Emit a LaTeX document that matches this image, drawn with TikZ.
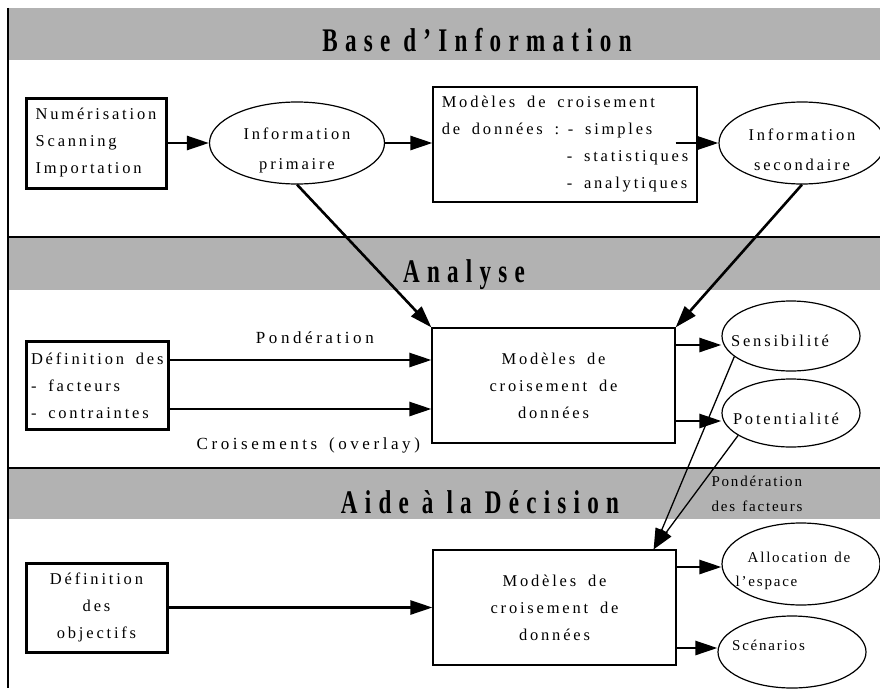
\documentclass[tikz,border=0pt]{standalone}
\usepackage{fontspec}
\setmainfont{Liberation Serif}[LetterSpace=17, WordSpace=1.7]
\newfontfamily\titlefont{Liberation Serif}[FakeStretch=0.7, LetterSpace=22]
\newfontfamily\labelfont{Liberation Serif}[LetterSpace=21, WordSpace=1.5]
\newfontfamily\notefont{Liberation Serif}[LetterSpace=12, WordSpace=1.3]
\usetikzlibrary{arrows.meta, shapes.geometric}
\definecolor{bandgray}{RGB}{178,178,178}

\begin{document}
\begin{tikzpicture}[x=1pt, y=-1pt, font=\fontsize{16.5}{27}\selectfont,
    box/.style={shape=rectangle, draw, fill=white, line width=1.2pt, inner sep=0pt},
    thickbox/.style={box, line width=3pt},
    oval/.style={shape=ellipse, draw, fill=white, line width=1.2pt, inner sep=0pt},
    title/.style={font=\titlefont\bfseries\fontsize{33}{33}\selectfont, anchor=base},
    arr/.style={-{Triangle[length=22pt, width=14pt]}, line width=2.6pt},
    thinarr/.style={-{Triangle[length=21pt, width=13pt]}, line width=1.3pt}]
    \useasboundingbox (0, 0) rectangle (880, 693);

    \fill [bandgray] (8, 8) rectangle (880, 60);
    \fill [bandgray] (8, 237) rectangle (880, 290);
    \fill [bandgray] (8, 468) rectangle (880, 519);
    \draw [line width=2.8pt] (8, 237) -- (880, 237);
    \draw [line width=2.8pt] (8, 468) -- (880, 468);
    \draw [line width=1.5pt] (8, 8) -- (8, 688);

    \node [title] (tbase) at (477, 52) {Base d’Information};
    \node [title] (tanalyse) at (464, 282) {Analyse};
    \node [title] (taide) at (480, 513) {Aide à la Décision};

    \node [thickbox, minimum width=140, minimum height=90, align=left] (scan) at (96, 143)
        {Numérisation\\Scanning\\Importation};
    \node [oval, minimum width=175, minimum height=82,
        label={[align=center, yshift=-7pt, font=\fontsize{16.5}{30}\selectfont]center:Information\\primaire}] (info1) at (297, 143) {};
    \node [box, minimum width=264, minimum height=115, align=left] (mod1) at (565, 144.5)
        {Modèles de croisement\\\makebox[126pt][l]{de données :}- simples\\\hspace*{125pt}- statistiques\\\hspace*{125pt}- analytiques};
    \node [oval, minimum width=166, minimum height=82,
        label={[align=center, yshift=-7pt, font=\fontsize{16.5}{30}\selectfont]center:Information\\secondaire}] (info2) at (802, 143) {};
    \coordinate (m1out) at ([xshift=-22pt]mod1.east);

    \draw [arr] (scan) -- (info1);
    \draw [arr] (info1) -- (mod1.west |- info1.east);
    \draw [arr] (m1out |- info2.west) -- (info2.west);

    \node [thickbox, minimum width=142, minimum height=88, align=left] (def1) at (97, 385.5)
        {\makebox[132pt][l]{Définition des\,:}\\- facteurs\\- contraintes};
    \node [box, minimum width=243, minimum height=115, align=center] (mod2) at (553.5, 385.5)
        {Modèles de\\croisement de\\données};
    \node [oval, minimum width=138, minimum height=70,
        label={[xshift=-11pt, yshift=-4.5pt]center:Sensibilité}] (sens) at (791, 336) {};
    \node [oval, minimum width=138, minimum height=68,
        label={[xshift=-5pt, yshift=-5.5pt]center:Potentialité}] (pot) at (791, 413) {};

    \draw [arr] (info1.south) -- (mod2.north west);
    \draw [arr] (info2.south) -- (mod2.north east);
    \draw [arr] ([yshift=25.5pt]def1.east) --
        node [pos=0.555, yshift=22pt, font=\labelfont\fontsize{17}{20}\selectfont] {Pondération}
        ([yshift=25.5pt]mod2.west);
    \draw [arr] ([yshift=-23.5pt]def1.east) --
        node [pos=0.53, yshift=-36pt, font=\labelfont\fontsize{17}{20}\selectfont] {Croisements (overlay)}
        ([yshift=-23.5pt]mod2.west);
    \draw [arr] ([yshift=40.5pt]mod2.east) -- ([yshift=-9pt]sens.west);
    \draw [arr] ([yshift=-35.5pt]mod2.east) -- ([yshift=-8pt]pot.west);

    \node [thickbox, minimum width=141, minimum height=89, align=center] (def2) at (96.5, 607.5)
        {Définition\\des\\objectifs};
    \node [box, minimum width=243, minimum height=115, align=center] (mod3) at (554.5, 607.5)
        {Modèles de\\croisement de\\données};
    \node [oval, minimum width=158, minimum height=82,
        label={[align=left, xshift=-8pt, yshift=-7pt, font=\notefont\fontsize{15}{24}\selectfont]center:\hspace*{12pt}Allocation de\\l’espace}] (alloc) at (801, 564) {};
    \node [oval, minimum width=148, minimum height=72,
        label={[xshift=-23.5pt, yshift=7pt, font=\notefont\fontsize{15}{24}\selectfont]center:Scénarios}] (scen) at (792, 652) {};
    \node [anchor=west, align=left, font=\notefont\fontsize{15}{25}\selectfont] (pondf) at (708, 494)
        {Pondération\\des facteurs};
    \coordinate (aim) at ([xshift=-23pt]mod3.north east);

    \draw [thinarr] (sens.200) -- (aim);
    \draw [thinarr] (pot.203) -- (aim);
    \draw [arr] (def2) -- (mod3);
    \draw [arr] ([yshift=40.5pt]mod3.east) -- ([yshift=-3pt]alloc.west);
    \draw [arr] ([yshift=-40.5pt]mod3.east) -- ([yshift=4pt]scen.west);
\end{tikzpicture}
\end{document}
